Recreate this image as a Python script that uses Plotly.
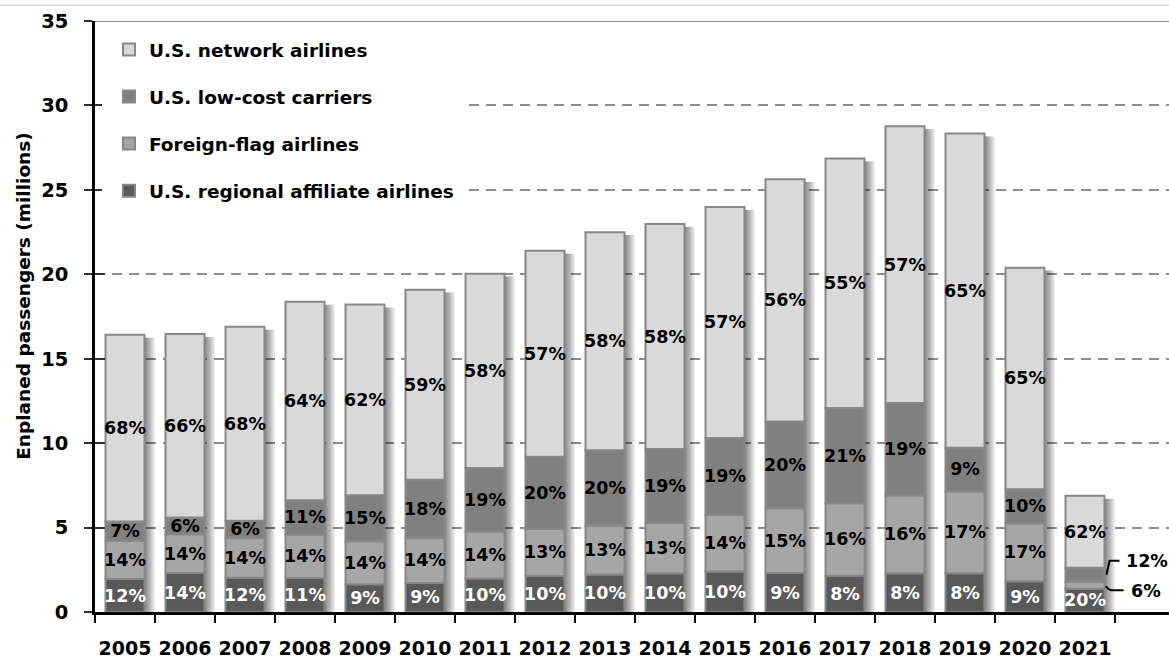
import plotly.graph_objects as go

# Enplaned passengers by carrier type (millions), with segment shares in percent
years = [2005, 2006, 2007, 2008, 2009, 2010, 2011, 2012, 2013, 2014,
         2015, 2016, 2017, 2018, 2019, 2020, 2021]
totals = [16.25, 16.46, 16.89, 18.37, 18.21, 19.09, 19.84, 21.39, 22.27, 22.98,
          23.98, 25.63, 26.85, 28.77, 28.62, 20.19, 6.88]
regional_pct = [12, 14, 12, 11, 9, 9, 10, 10, 10, 10, 10, 9, 8, 8, 8, 9, 20]
foreign_pct = [14, 14, 14, 14, 14, 14, 14, 13, 13, 13, 14, 15, 16, 16, 17, 17, 6]
lowcost_pct = [7, 6, 6, 11, 15, 18, 19, 20, 20, 19, 19, 20, 21, 19, 9, 10, 12]
network_pct = [68, 66, 68, 64, 62, 59, 58, 57, 58, 58, 57, 56, 55, 57, 65, 65, 62]

series = [
    # name, shares, fill, label colour, legend rank
    ("U.S. regional affiliate airlines", regional_pct, "#595959", "white", 4),
    ("Foreign-flag airlines", foreign_pct, "#a6a6a6", "black", 3),
    ("U.S. low-cost carriers", lowcost_pct, "#808080", "black", 2),
    ("U.S. network airlines", network_pct, "#d9d9d9", "black", 1),
]
# shares labelled beside the 2021 bar instead of inside it
outside_labels = {("U.S. low-cost carriers", 2021), ("Foreign-flag airlines", 2021)}

x = list(range(len(years)))
BAR_W = 0.65
FONT = "DejaVu Sans"
LABEL_SIZE = 17.5

# segment heights in millions
segments = []
for name, pct, color, tcolor, rank in series:
    segments.append([t * p / 100 for t, p in zip(totals, pct)])

bases = []
running = [0.0] * len(years)
for seg in segments:
    bases.append(list(running))
    running = [r + s for r, s in zip(running, seg)]
tops = running

fig = go.Figure()

# soft drop shadow to the right of each column
for k in range(1, 9):
    fig.add_trace(go.Bar(
        x=x, y=[t - 0.17 for t in tops], base=0,
        width=BAR_W, offset=-BAR_W / 2 + k * 1.3 / 60,
        marker=dict(color="rgba(0,0,0,0.07)", line=dict(width=0)),
        showlegend=False, hoverinfo="skip",
    ))

for (name, pct, color, tcolor, rank), seg, base in zip(series, segments, bases):
    texts = ["" if (name, yr) in outside_labels else f"{p}%"
             for yr, p in zip(years, pct)]
    fig.add_trace(go.Bar(
        x=x, y=seg, base=base, name=name,
        width=BAR_W, offset=-BAR_W / 2,
        marker=dict(color=color, line=dict(color="#878787", width=2)),
        text=texts, textposition="inside", insidetextanchor="middle",
        textangle=0, constraintext="none",
        insidetextfont=dict(family=FONT, size=LABEL_SIZE, color=tcolor, weight="bold"),
        legendgroup=name, legendrank=rank,
        hoverinfo="skip",
    ))

# 2021 callouts for the thin segments
i21 = years.index(2021)
names = [s[0] for s in series]
lc_i = names.index("U.S. low-cost carriers")
ff_i = names.index("Foreign-flag airlines")
lc_mid = bases[lc_i][i21] + segments[lc_i][i21] / 2
ff_mid = bases[ff_i][i21] + segments[ff_i][i21] / 2
edge = x[i21] + BAR_W / 2

fig.add_shape(type="path", xref="x", yref="y", xsizemode="pixel", ysizemode="pixel",
              xanchor=edge, yanchor=lc_mid, path="M 2,0 L 5,14 L 15,14",
              line=dict(color="black", width=2))
fig.add_shape(type="path", xref="x", yref="y", xsizemode="pixel", ysizemode="pixel",
              xanchor=edge, yanchor=ff_mid, path="M 1.5,-1 Q 4,-5 8,-5 L 19,-5",
              line=dict(color="black", width=2))
fig.add_annotation(x=x[i21], y=lc_mid, text=f"{lowcost_pct[i21]}%", showarrow=False,
                   xanchor="left", xshift=39, yshift=14,
                   font=dict(family=FONT, size=LABEL_SIZE, color="black", weight="bold"))
fig.add_annotation(x=x[i21], y=ff_mid, text=f"{foreign_pct[i21]}%", showarrow=False,
                   xanchor="left", xshift=44, yshift=-6,
                   font=dict(family=FONT, size=LABEL_SIZE, color="black", weight="bold"))

# solid top border of the plot area and frame line above
fig.add_shape(type="line", xref="paper", yref="y", x0=0, x1=1, y0=35, y1=35,
              line=dict(color="#858585", width=2), layer="above")
fig.add_shape(type="line", xref="paper", yref="paper", x0=-0.09, x1=1, y0=1.027, y1=1.027,
              line=dict(color="#d4d4d4", width=1.5))

# y-axis title
fig.add_annotation(xref="paper", yref="paper", x=-0.0673, y=0.5345,
                   text="Enplaned passengers (millions)", textangle=-90,
                   showarrow=False, xanchor="center", yanchor="middle",
                   font=dict(family=FONT, size=18.5, color="black", weight="bold"))

fig.update_layout(
    width=1169, height=659,
    margin=dict(l=95, r=0, t=21, b=44),
    barmode="overlay",
    plot_bgcolor="white", paper_bgcolor="white",
    font=dict(family=FONT, color="black"),
    showlegend=True,
    legend=dict(
        x=0.0065, y=0.995, xanchor="left", yanchor="top",
        bgcolor="white", bordercolor="white", borderwidth=7,
        font=dict(family=FONT, size=18.5, color="black", weight="bold"),
        tracegroupgap=20, itemwidth=30,
    ),
    xaxis=dict(
        range=[-0.5, 17.4], tickmode="array", tickvals=x, ticktext=[str(y) for y in years],
        ticks="", showgrid=False, zeroline=False,
        showline=True, linecolor="black", linewidth=2.5,
        tickfont=dict(family=FONT, size=19, color="black", weight="bold"),
        ticklabelstandoff=17,
        minor=dict(tickmode="linear", tick0=-0.5, dtick=1, ticks="outside",
                   ticklen=8, tickwidth=2, tickcolor="black", showgrid=False),
    ),
    yaxis=dict(
        range=[0, 35], tickmode="linear", tick0=0, dtick=5,
        ticks="outside", ticklen=8, tickwidth=2, tickcolor="#303030",
        showline=True, linecolor="black", linewidth=2.5,
        showgrid=True, gridcolor="#8c8c8c", gridwidth=2, griddash="10px,7px",
        zeroline=False,
        tickfont=dict(family=FONT, size=19.5, color="black", weight="bold"),
        ticklabelstandoff=12,
    ),
    yaxis2=dict(
        range=[0, 35], overlaying="y", side="left", tickmode="linear", tick0=0, dtick=5,
        ticks="inside", ticklen=10, tickwidth=2, tickcolor="#303030",
        showticklabels=False, showgrid=False, zeroline=False, showline=False,
    ),
)

# invisible trace so the crossing tick marks render on the overlay axis
fig.add_trace(go.Scatter(x=[x[0]], y=[0], yaxis="y2", mode="markers",
                         marker=dict(opacity=0), showlegend=False, hoverinfo="skip"))

fig.write_html("out.html")
